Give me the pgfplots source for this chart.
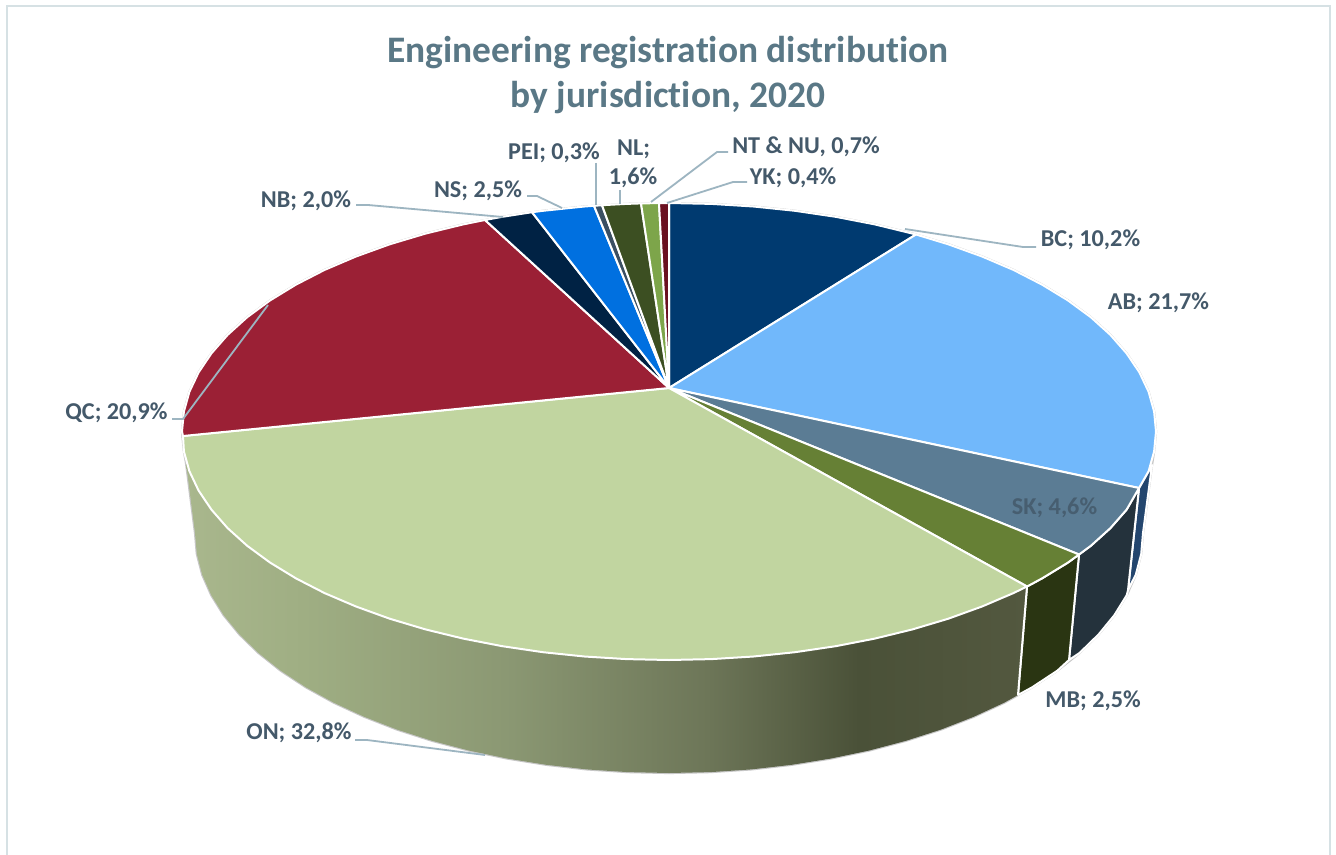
\documentclass[border=0pt]{standalone}
\usepackage{fontspec}
\setmainfont[Ligatures=NoCommon]{Carlito}
\usepackage{pgfplots}
\pgfplotsset{compat=1.18}
\definecolor{lab}{HTML}{44596A}
\definecolor{ttl}{HTML}{5A7886}
\definecolor{lead}{HTML}{9DB5C1}
\definecolor{frame}{HTML}{D6E1E4}
\definecolor{w1}{HTML}{A9B78D}
\definecolor{w2}{HTML}{9FAE83}
\definecolor{w3}{HTML}{8B9873}
\definecolor{w4}{HTML}{6D7658}
\definecolor{w5}{HTML}{4A5138}
\definecolor{w6}{HTML}{53583F}
\definecolor{cBC}{HTML}{003A70}
\definecolor{cAB}{HTML}{71B8FB}
\definecolor{cSK}{HTML}{5B7C94}
\definecolor{cMB}{HTML}{668035}
\definecolor{cON}{HTML}{C1D5A0}
\definecolor{cQC}{HTML}{9B2035}
\definecolor{cNB}{HTML}{002244}
\definecolor{cNS}{HTML}{0070E0}
\definecolor{cPEI}{HTML}{3A4F63}
\definecolor{cNL}{HTML}{3C4F22}
\definecolor{cNT}{HTML}{7DA54A}
\definecolor{cYK}{HTML}{6A1020}
\definecolor{wAB}{HTML}{24466E}
\definecolor{wSK}{HTML}{24323C}
\definecolor{wMB}{HTML}{2A3512}
\pgfdeclarehorizontalshading{onwall}{100bp}{
  color(0bp)=(w1); color(25bp)=(w1); color(32bp)=(w2); color(44bp)=(w3);
  color(56bp)=(w4); color(65bp)=(w5); color(75bp)=(w6); color(100bp)=(w6)}
\pgfplotsset{
  wedge/.style={draw=white,line width=1pt,line join=round,fill=#1,no markers,forget plot},
  leader/.style={draw=lead,line width=0.9pt,line join=round,no markers,forget plot},
}
\tikzset{lb/.style={text=lab,font=\fontsize{12.1}{14}\selectfont\bfseries,inner sep=0pt,anchor=center,yshift=-0.5pt},
         tt/.style={text=ttl,font=\fontsize{18.7}{21}\selectfont\bfseries,inner sep=0pt,anchor=center,yshift=-0.8pt}}
\begin{document}
\begin{tikzpicture}
\begin{axis}[scale only axis,width=668pt,height=427.5pt,xmin=0,xmax=1336,ymin=0,ymax=855,y dir=reverse,hide axis,clip=true]
% page and frame
\addplot[draw=none,fill=white,no markers,forget plot] coordinates {(0,0)(1336,0)(1336,855)(0,855)} -- cycle;
\addplot[draw=frame,line width=1.1pt,no markers,forget plot] coordinates {(7,855)(7,6)(1330,6)(1330,855)};
% silhouette halo
\addplot[draw=black!22,fill=white,line width=1.1pt,line join=round,no markers,forget plot] coordinates {
(669,203)(711.5,203.9)(753.5,206.5)(795,210.8)(835.6,216.8)(874.8,224.4)(912.5,233.6)(948.3,244.3)(982,256.5)(1013.4,269.9)(1042,284.6)(1067.9,300.4)(1090.8,317.2)(1110.4,334.9)(1126.6,353.4)(1139.4,372.4)(1148.6,391.8)(1154.1,411.6)(1156,431.5)(1154.1,451.4)(1152,465)
(1143,533)(1141.2,553.9)(1135.8,574.7)(1126.8,595.1)(1114.4,615.1)(1098.6,634.4)(1079.5,653)(1057.3,670.7)(1032.1,687.3)(1004.2,702.7)(973.7,716.8)(940.9,729.6)(906,740.8)(869.3,750.5)(831.1,758.5)(791.7,764.8)(751.3,769.4)(710.3,772.1)(669,773)(627.7,772.1)(586.7,769.4)(546.3,764.8)(506.9,758.5)(468.7,750.5)(432,740.8)(397.1,729.6)(364.3,716.8)(333.8,702.7)(305.9,687.3)(280.7,670.7)(258.5,653)(239.4,634.4)(223.6,615.1)(211.2,595.1)(202.2,574.7)(196.8,553.9)(195,533)(186,463)
(183.9,451.4)(182,431.5)(183.9,411.6)(189.4,391.8)(198.6,372.4)(211.4,353.4)(227.6,334.9)(247.2,317.2)(270.1,300.4)(296,284.6)(324.6,269.9)(356,256.5)(389.7,244.3)(425.5,233.6)(463.2,224.4)(502.4,216.8)(543,210.8)(584.5,206.5)(626.5,203.9)} -- cycle;
% side walls
\addplot[wedge=wAB] coordinates {(1139,488)(1148.6,471.2)(1152,465)(1143,533)(1141.2,553.9)(1135.8,574.7)(1128,590)} -- cycle;
\addplot[wedge=wSK] coordinates {(1139,488)(1126.6,509.6)(1110.4,528.1)(1090.8,545.8)(1079,554.5)(1069,660)(1079.5,653)(1098.6,634.4)(1114.4,615.1)(1126.8,595.1)(1128,590)} -- cycle;
\addplot[wedge=wMB] coordinates {(1079,554.5)(1067.9,562.6)(1042,578.4)(1027,586.5)(1018,695)(1032.1,687.3)(1057.3,670.7)(1069,660)} -- cycle;
\addplot[shade,shading=onwall,draw=none,no markers,forget plot] coordinates {(1027,586.5)(1013.4,593.1)(982,606.5)(948.3,618.7)(912.5,629.4)(874.8,638.6)(835.6,646.2)(795,652.2)(753.5,656.5)(711.5,659.1)(669,660)(626.5,659.1)(584.5,656.5)(543,652.2)(502.4,646.2)(463.2,638.6)(425.5,629.4)(389.7,618.7)(356,606.5)(324.6,593.1)(296,578.4)(270.1,562.6)(247.2,545.8)(227.6,528.1)(211.4,509.6)(198.6,490.6)(189.4,471.2)(186,463)(195,533)(196.8,553.9)(202.2,574.7)(211.2,595.1)(223.6,615.1)(239.4,634.4)(258.5,653)(280.7,670.7)(305.9,687.3)(333.8,702.7)(364.3,716.8)(397.1,729.6)(432,740.8)(468.7,750.5)(506.9,758.5)(546.3,764.8)(586.7,769.4)(627.7,772.1)(669,773)(710.3,772.1)(751.3,769.4)(791.7,764.8)(831.1,758.5)(869.3,750.5)(906,740.8)(940.9,729.6)(973.7,716.8)(1004.2,702.7)(1018,695)} -- cycle;
\addplot[draw=white,line width=1pt,no markers,forget plot] coordinates {(1027,586.5)(1018,695)};
% top wedges
\addplot[wedge=cBC] coordinates {(669,388)(669,203)(711.5,203.9)(753.5,206.5)(795,210.8)(835.6,216.8)(874.8,224.4)(912.5,233.6)(916,234.5)} -- cycle;
\addplot[wedge=cAB] coordinates {(669,388)(916,234.5)(948.3,244.3)(982,256.5)(1013.4,269.9)(1042,284.6)(1067.9,300.4)(1090.8,317.2)(1110.4,334.9)(1126.6,353.4)(1139.4,372.4)(1148.6,391.8)(1154.1,411.6)(1156,431.5)(1154.1,451.4)(1148.6,471.2)(1139,488)} -- cycle;
\addplot[wedge=cSK] coordinates {(669,388)(1139,488)(1126.6,509.6)(1110.4,528.1)(1090.8,545.8)(1079,554.5)} -- cycle;
\addplot[wedge=cMB] coordinates {(669,388)(1079,554.5)(1067.9,562.6)(1042,578.4)(1027,586.5)} -- cycle;
\addplot[wedge=cON] coordinates {(669,388)(1027,586.5)(1013.4,593.1)(982,606.5)(948.3,618.7)(912.5,629.4)(874.8,638.6)(835.6,646.2)(795,652.2)(753.5,656.5)(711.5,659.1)(669,660)(626.5,659.1)(584.5,656.5)(543,652.2)(502.4,646.2)(463.2,638.6)(425.5,629.4)(389.7,618.7)(356,606.5)(324.6,593.1)(296,578.4)(270.1,562.6)(247.2,545.8)(227.6,528.1)(211.4,509.6)(198.6,490.6)(189.4,471.2)(183.9,451.4)(183,436)} -- cycle;
\addplot[wedge=cQC] coordinates {(669,388)(183,436)(182,431.5)(183.9,411.6)(189.4,391.8)(198.6,372.4)(211.4,353.4)(227.6,334.9)(247.2,317.2)(270.1,300.4)(296,284.6)(324.6,269.9)(356,256.5)(389.7,244.3)(425.5,233.6)(463.2,224.4)(485,220)} -- cycle;
\addplot[wedge=cNB] coordinates {(669,388)(485,220)(502.4,216.8)(532,212.2)} -- cycle;
\addplot[wedge=cNS] coordinates {(669,388)(532,212.2)(543,210.8)(584.5,206.5)(594,205.8)} -- cycle;
\addplot[wedge=cPEI] coordinates {(669,388)(594,205.8)(602,205.2)} -- cycle;
\addplot[wedge=cNL] coordinates {(669,388)(602,205.2)(626.5,203.9)(641,203.4)} -- cycle;
\addplot[wedge=cNT] coordinates {(669,388)(641,203.4)(659,203.1)} -- cycle;
\addplot[wedge=cYK] coordinates {(669,388)(659,203.1)(669,203)} -- cycle;
% leader lines
\addplot[leader] coordinates {(905,229)(1023,247)(1036,247)};
\addplot[leader] coordinates {(667,203)(733,182)(747,182)};
\addplot[leader] coordinates {(651,202)(717,152)(728,152)};
\addplot[leader] coordinates {(620,190)(620,204)};
\addplot[leader] coordinates {(596,163)(596,205)};
\addplot[leader] coordinates {(527,196)(537,196)(562,208)};
\addplot[leader] coordinates {(356,205)(368,205)(503,217)};
\addplot[leader] coordinates {(172,419)(183,419)(268,305)};
\addplot[leader] coordinates {(355,740)(367,740)(485,755)};
% text
\node[tt] at (axis cs:668,51) {Engineering registration distribution};
\node[tt] at (axis cs:668,96) {by jurisdiction, 2020};
\node[lb] at (axis cs:1090.5,239) {BC; 10,2\%};
\node[lb] at (axis cs:1158.5,302) {AB; 21,7\%};
\node[lb,text=lab!85!cSK] at (axis cs:1054.5,507) {SK; 4,6\%};
\node[lb] at (axis cs:1093,700) {MB; 2,5\%};
\node[lb] at (axis cs:299,732) {ON; 32,8\%};
\node[lb] at (axis cs:116.5,412) {QC; 20,9\%};
\node[lb] at (axis cs:306,200) {NB; 2,0\%};
\node[lb] at (axis cs:478,190) {NS; 2,5\%};
\node[lb] at (axis cs:554,152) {PEI; 0,3\%};
\node[lb] at (axis cs:633.5,148) {NL;};
\node[lb] at (axis cs:633,177) {1,6\%};
\node[lb] at (axis cs:806,146) {NT \& NU, 0,7\%};
\node[lb] at (axis cs:793,177) {YK; 0,4\%};
\end{axis}
\end{tikzpicture}
\end{document}
